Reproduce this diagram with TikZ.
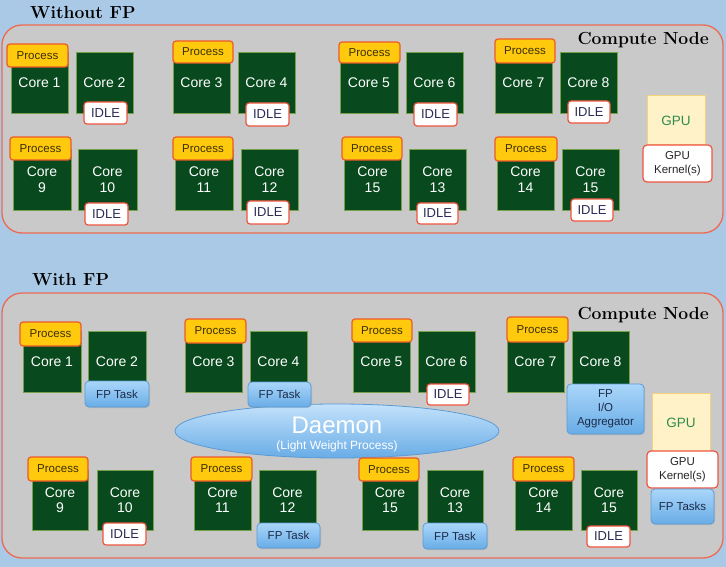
\documentclass[tikz,border=0pt]{standalone}
\usepackage{fontspec}
\setsansfont{Liberation Sans}
\usetikzlibrary{shadows,shapes.geometric}
\definecolor{bgblue}{HTML}{A9C9E6}
\definecolor{panelfill}{HTML}{C9C9C9}
\definecolor{panelline}{HTML}{EE6A52}
\definecolor{corefill}{HTML}{084A1E}
\definecolor{coreline}{HTML}{76A04C}
\definecolor{procfill}{HTML}{FFC90E}
\definecolor{procline}{HTML}{EE5A2A}
\definecolor{procText}{HTML}{3A3000}
\definecolor{idleline}{HTML}{EE5540}
\definecolor{idleText}{HTML}{2B2B55}
\definecolor{fptop}{HTML}{AAD6FA}
\definecolor{fpbot}{HTML}{68ACE6}
\definecolor{fpline}{HTML}{5B9BD5}
\definecolor{fpText}{HTML}{1B2B48}
\definecolor{gpufill}{HTML}{FFF2C8}
\definecolor{gpuline}{HTML}{F2D27A}
\definecolor{gpuText}{HTML}{2E8B4E}
\newcommand\bx[7]{\node[#1, minimum width={(#5)-(#3)}, minimum height={(#6)-(#4)}] (#2) at ({((#3)+(#5))/2},{-((#4)+(#6))/2}) {#7};}
\tikzset{
  x=1pt, y=1pt,
  panel/.style={draw=panelline, fill=panelfill, line width=1.3pt, rounded corners=20pt},
  title/.style={font=\fontsize{17.5}{20}\selectfont\bfseries, anchor=base west, inner sep=0},
  core/.style={draw=coreline, fill=corefill, line width=0.9pt, inner sep=0, outer sep=0,
    text=white, align=center, font=\sffamily\fontsize{14}{15.5}\selectfont,
    drop shadow={shadow xshift=1pt, shadow yshift=-1pt, opacity=0.25}},
  proc/.style={draw=procline, fill=procfill, line width=1.2pt, rounded corners=3pt, inner sep=0, outer sep=0,
    text=procText, font=\sffamily\fontsize{11.5}{13}\selectfont},
  idle/.style={draw=idleline, fill=white, line width=1.2pt, rounded corners=3pt, inner sep=0, outer sep=0,
    text=idleText, font=\sffamily\fontsize{13}{14}\selectfont},
  fptask/.style={draw=fpline, top color=fptop, bottom color=fpbot, line width=0.8pt, rounded corners=4pt,
    inner sep=0, outer sep=0, text=fpText, align=center, font=\sffamily\fontsize{11.5}{14}\selectfont,
    drop shadow={shadow xshift=1pt, shadow yshift=-1pt, opacity=0.25}},
  gpu/.style={draw=gpuline, fill=gpufill, line width=1pt, inner sep=0, outer sep=0,
    text=gpuText, font=\sffamily\fontsize{13.5}{15}\selectfont},
  kernel/.style={draw=idleline, fill=white, line width=1.2pt, rounded corners=4pt, inner sep=0, outer sep=0,
    text=black!85, align=center, font=\sffamily\fontsize{11.5}{14}\selectfont},
}
\begin{document}
\begin{tikzpicture}
\fill[bgblue] (0,0) rectangle (726,-567);
\useasboundingbox (0,0) rectangle (726,-567);

% ================= Without FP =================
\node[title] (t1) at (30,-19) {Without FP};
\draw[panel] (2,-25) rectangle (723,-233);
\node[title, anchor=base east] (cn1) at (709,-45) {Compute Node};

% row 1
\bx{core}{a1}{11}{52}{68}{113}{\raisebox{-3pt}{Core 1}}
\bx{core}{a2}{76}{52}{133}{113}{Core 2}
\bx{core}{a3}{173}{52}{230}{113}{\raisebox{-3pt}{Core 3}}
\bx{core}{a4}{238}{52}{295}{113}{Core 4}
\bx{core}{a5}{340}{52}{398}{113}{\raisebox{-3pt}{Core 5}}
\bx{core}{a6}{406}{52}{463}{113}{Core 6}
\bx{core}{a7}{495}{52}{552}{113}{\raisebox{-3pt}{Core 7}}
\bx{core}{a8}{560}{52}{617}{113}{Core 8}
\bx{proc}{ap1}{7}{44}{68}{67}{Process}
\bx{proc}{ap3}{173}{41}{233}{63}{Process}
\bx{proc}{ap5}{339}{42}{400}{63}{Process}
\bx{proc}{ap7}{495}{39}{555}{63}{Process}
\bx{idle}{ai2}{84}{102}{127}{124}{IDLE}
\bx{idle}{ai4}{246}{103}{289}{126}{IDLE}
\bx{idle}{ai6}{414}{103}{457}{126}{IDLE}
\bx{idle}{ai8}{568}{101}{610}{123}{IDLE}
% row 2
\bx{core}{a9}{13}{149}{71}{210}{Core\\9}
\bx{core}{a10}{78}{149}{137}{210}{Core\\10}
\bx{core}{a11}{175}{149}{233}{210}{Core\\11}
\bx{core}{a12}{241}{149}{298}{210}{Core\\12}
\bx{core}{a15}{344}{149}{401}{210}{Core\\15}
\bx{core}{a13}{409}{149}{466}{210}{Core\\13}
\bx{core}{a14}{497}{149}{554}{210}{Core\\14}
\bx{core}{a16}{562}{149}{619}{210}{Core\\15}
\bx{proc}{ap9}{10}{137}{71}{160}{Process}
\bx{proc}{ap11}{173}{137}{233}{160}{Process}
\bx{proc}{ap15}{342}{137}{402}{160}{Process}
\bx{proc}{ap14}{495}{137}{557}{161}{Process}
\bx{idle}{ai10}{85}{203}{128}{225}{IDLE}
\bx{idle}{ai12}{247}{201}{289}{224}{IDLE}
\bx{idle}{ai13}{417}{203}{458}{224}{IDLE}
\bx{idle}{ai16}{571}{199}{613}{221}{IDLE}
% GPU
\bx{gpu}{ag}{647}{96}{705}{145}{GPU}
\bx{kernel}{ak}{643}{145}{712}{182}{GPU\\Kernel(s)}

% ================= With FP =================
\node[title] (t2) at (32,-285) {With FP};
\draw[panel] (2,-293) rectangle (723,-558);
\node[title, anchor=base east] (cn2) at (709,-319) {Compute Node};

% Daemon
\node[ellipse, draw=fpline, top color=fptop!70!white, bottom color=fpbot, line width=0.8pt,
  minimum width=324, minimum height=54, inner sep=0] (dm) at (337,-431) {};
\node[text=white, font=\sffamily\fontsize{24}{26}\selectfont] (dmt) at (337,-425) {Daemon};
\node[text=white, font=\sffamily\fontsize{12}{13}\selectfont] (dms) at (337,-446) {(Light Weight Process)};

% row 1
\bx{core}{b1}{23}{331}{81}{392}{\raisebox{-2pt}{Core 1}}
\bx{core}{b2}{88}{331}{146}{392}{Core 2}
\bx{core}{b3}{185}{331}{242}{392}{\raisebox{-2pt}{Core 3}}
\bx{core}{b4}{250}{331}{307}{392}{Core 4}
\bx{core}{b5}{353}{331}{410}{392}{\raisebox{-2pt}{Core 5}}
\bx{core}{b6}{418}{331}{475}{392}{Core 6}
\bx{core}{b7}{507}{331}{564}{392}{\raisebox{-2pt}{Core 7}}
\bx{core}{b8}{572}{331}{629}{392}{Core 8}
\bx{proc}{bp1}{20}{322}{81}{346}{Process}
\bx{proc}{bp3}{185}{319}{246}{343}{Process}
\bx{proc}{bp5}{352}{319}{412}{342}{Process}
\bx{proc}{bp7}{507}{317}{568}{342}{Process}
\bx{fptask}{bf2}{85}{381}{149}{407}{FP Task}
\bx{fptask}{bf4}{248}{382}{311}{407}{FP Task}
\bx{idle}{bi6}{427}{384}{469}{405}{IDLE}
\bx{fptask}{bf8}{567}{384}{644}{434}{FP\\I/O\\Aggregator}
% row 2
\bx{core}{b9}{32}{470}{88}{530}{Core\\9}
\bx{core}{b10}{97}{470}{153}{530}{Core\\10}
\bx{core}{b11}{194}{470}{251}{530}{Core\\11}
\bx{core}{b12}{259}{470}{316}{530}{Core\\12}
\bx{core}{b15}{362}{470}{418}{530}{Core\\15}
\bx{core}{b13}{427}{470}{483}{530}{Core\\13}
\bx{core}{b14}{515}{470}{572}{530}{Core\\14}
\bx{core}{b16}{581}{470}{637}{530}{Core\\15}
\bx{proc}{bp9}{28}{457}{88}{481}{Process}
\bx{proc}{bp11}{191}{457}{252}{481}{Process}
\bx{proc}{bp15}{359}{458}{419}{481}{Process}
\bx{proc}{bp14}{513}{457}{574}{481}{Process}
\bx{idle}{bi10}{103}{523}{146}{545}{IDLE}
\bx{fptask}{bf12}{257}{523}{320}{548}{FP Task}
\bx{fptask}{bf13}{423}{523}{487}{549}{FP Task}
\bx{idle}{bi16}{587}{526}{630}{547}{IDLE}
% GPU
\bx{gpu}{bg}{652}{393}{710}{452}{GPU}
\bx{kernel}{bk}{647}{451}{718}{488}{GPU\\Kernel(s)}
\bx{fptask}{bft}{651}{489}{714}{524}{FP Tasks}
\end{tikzpicture}
\end{document}
